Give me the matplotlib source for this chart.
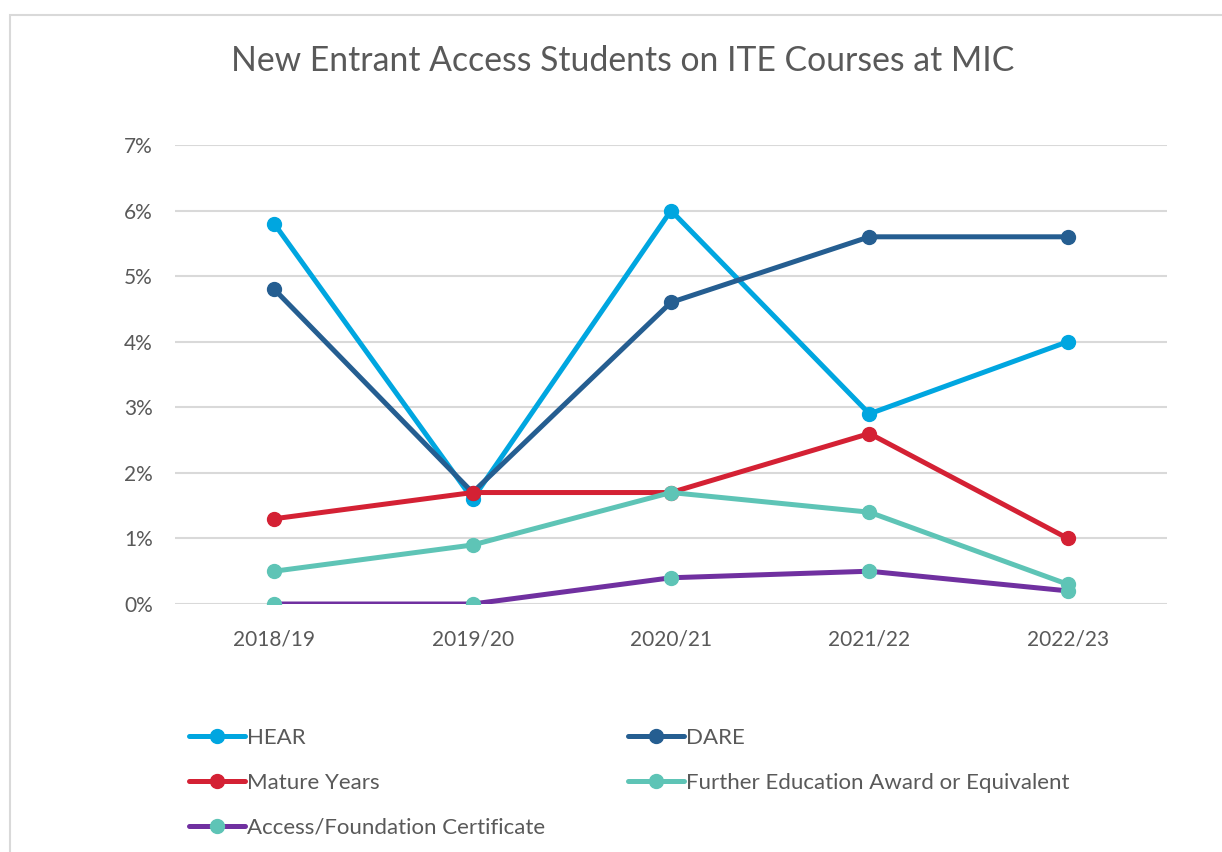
import numpy as np
import matplotlib.pyplot as plt
from matplotlib.patches import Rectangle

# -- data
years = ["2018/19", "2019/20", "2020/21", "2021/22", "2022/23"]
hear = [5.8, 1.6, 6.0, 2.9, 4.0]
dare = [4.8, 1.7, 4.6, 5.6, 5.6]
mature = [1.3, 1.7, 1.7, 2.6, 1.0]
further_ed = [0.5, 0.9, 1.7, 1.4, 0.3]
access = [0.0, 0.0, 0.4, 0.5, 0.2]

plt.rcParams["font.family"] = ["Lato", "DejaVu Sans"]
grey = "#595959"

fig = plt.figure(figsize=(12.22, 8.52), dpi=100)
ax = fig.add_axes([175 / 1222, 1 - 604 / 852, 992 / 1222, 459 / 852])

# -- chart frame
fig.patches.append(Rectangle((10 / 1222, -0.1), 1.1, 1 - 15 / 852 + 0.1,
                             transform=fig.transFigure, fill=False,
                             edgecolor="#d9d9d9", lw=1.5))

x = np.arange(len(years)) + 0.5
series = [
    ("HEAR", hear, "#00A6E0", "#00A6E0"),
    ("DARE", dare, "#255E91", "#255E91"),
    ("Mature Years", mature, "#D42134", "#D42134"),
    ("Further Education Award or Equivalent", further_ed, "#5EC4B6", "#5EC4B6"),
    ("Access/Foundation Certificate", access, "#7030A0", "#5EC4B6"),
]
lines = {}
for name, vals, lc, mc in series:
    lines[name], = ax.plot(x, np.array(vals) / 100, color=lc, lw=3.6,
                           marker="o", ms=10, mfc=mc, mec=mc,
                           solid_capstyle="round", label=name)

ax.set_xlim(0, 5)
ax.set_ylim(0, 0.07)
ax.set_yticks(np.arange(0, 0.071, 0.01))
ax.set_yticklabels(["%d%%" % i for i in range(8)])
ax.set_xticks(x)
ax.set_xticklabels(years)
ax.grid(axis="y", color="#d9d9d9", lw=1.5)
ax.set_axisbelow(True)
for s in ax.spines.values():
    s.set_visible(False)
ax.tick_params(length=0, labelsize=15, colors=grey)
ax.tick_params(axis="y", pad=16)
ax.tick_params(axis="x", pad=18)

fig.text(623 / 1222, 1 - 61 / 852, "New Entrant Access Students on ITE Courses at MIC",
         ha="center", va="center", fontsize=24.3, color=grey)

order = ["HEAR", "Mature Years", "Access/Foundation Certificate",
         "DARE", "Further Education Award or Equivalent"]
fig.legend([lines[n] for n in order], order, ncol=2, loc="upper left",
           bbox_to_anchor=(169 / 1222, 1 - 708 / 852), frameon=False,
           fontsize=16, labelcolor=grey, handlelength=2.5,
           handletextpad=0.1, columnspacing=3.75, labelspacing=1.12)

fig.savefig("out.png", dpi=100)
